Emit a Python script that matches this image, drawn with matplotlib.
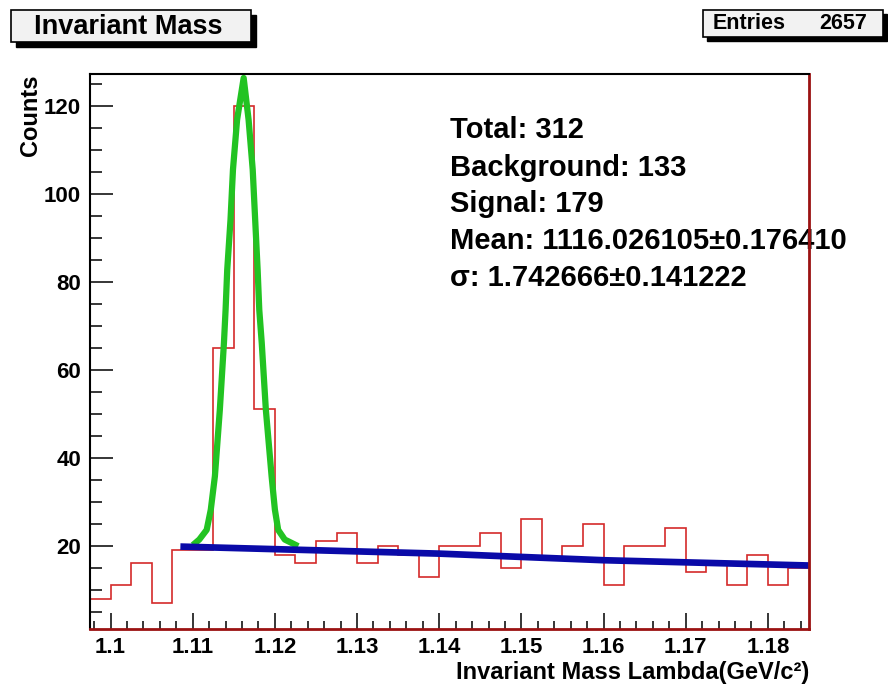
#import libraries needed for the plot
import numpy as np
import matplotlib
matplotlib.use('Agg')
import matplotlib.pyplot as plt
from matplotlib.patches import Rectangle

plt.rcParams['font.family'] = ['Liberation Sans', 'DejaVu Sans'] #helvetica-like font
plt.rcParams['font.weight'] = 'bold'

###data###
hist_start = 1.0975 #left edge of first bin (GeV/c2)
bin_width = 0.0025
counts = [8, 11, 16, 7, 19, 19, 65, 120, 51, 18, 16, 21, 23, 16, 20, 18, 13, 20,
          20, 23, 15, 26, 17, 20, 25, 11, 20, 20, 24, 14, 16, 11, 18, 11, 15]
edges = np.round(hist_start + bin_width * np.arange(len(counts) + 1), 4)

#green curve (signal fit) points
sig_x = [1.1103, 1.1108, 1.1117, 1.1122, 1.1127, 1.1133, 1.1138, 1.1140, 1.1142, 1.1146,
         1.1149, 1.1154, 1.1162, 1.1168, 1.1173, 1.1176, 1.1179, 1.1181, 1.1184, 1.1189,
         1.1196, 1.1200, 1.1204, 1.1212, 1.1225]
sig_y = [20.6, 21.4, 23.6, 28.2, 35.8, 50.9, 66.1, 73.6, 82.7, 94.1,
         105.5, 116.8, 126.3, 116.8, 105.5, 94.1, 82.7, 73.6, 66.1, 50.9,
         35.8, 28.2, 23.6, 21.4, 20.2]

#blue line (background fit)
bg_x = [1.1085, 1.14, 1.16, 1.185]
bg_y = [19.8, 18.2, 16.7, 15.5]

xticks = [1.10, 1.11, 1.12, 1.13, 1.14, 1.15, 1.16, 1.17, 1.18]
xtick_labels = ['1.1', '1.11', '1.12', '1.13', '1.14', '1.15', '1.16', '1.17', '1.18']
yticks = [20, 40, 60, 80, 100, 120]

stats_lines = ['Total: 312', 'Background: 133', 'Signal: 179',
               'Mean: 1116.026105\u00b10.176410', '\u03c3: 1.742666\u00b10.141222']
entries = '2657'

###figure###
W, H = 888, 684
fig = plt.figure(figsize=(W / 100, H / 100), dpi=100)

def fx(px): #pixel x -> figure fraction
    return px / W

def fy(py): #pixel y (from top) -> figure fraction
    return 1 - py / H

ax = fig.add_axes([fx(90), fy(629), fx(809) - fx(90), fy(74) - fy(629)])

ax.stairs(counts, edges, color='#d42a2a', lw=1.2, baseline=None, zorder=2) #histogram outline
ax.plot(sig_x, sig_y, color='#22c322', lw=4.5, zorder=3, solid_joinstyle='round')
ax.plot(bg_x, bg_y, color='#0a0aa8', lw=4.8, zorder=4, solid_capstyle='butt')

ax.set_xlim(1.0975, 1.185)
ax.set_ylim(1.07, 127.2)
ax.set_xticks(xticks)
ax.set_xticklabels(xtick_labels)
ax.set_xticks(np.arange(1.098, 1.1841, 0.002), minor=True)
ax.set_yticks(yticks)
ax.set_yticks(np.arange(5, 126, 5), minor=True)

ax.tick_params(axis='x', which='major', direction='in', length=11.5, width=1.1,
               pad=6, labelsize=16, top=False, color='black')
ax.tick_params(axis='x', which='minor', direction='in', length=6, width=1.1, top=False)
ax.tick_params(axis='y', which='major', direction='in', length=16.5, width=1.1,
               pad=6.5, labelsize=16, right=False, color='black')
ax.tick_params(axis='y', which='minor', direction='in', length=8.5, width=1.1, right=False)

for side in ['left', 'top']:
    ax.spines[side].set_color('black')
    ax.spines[side].set_linewidth(1.5)
for side in ['bottom', 'right']:
    ax.spines[side].set_color('#9b1212')
    ax.spines[side].set_linewidth(2)
for sp in ax.spines.values():
    sp.set_zorder(6) #frame drawn over the stats text

#stats text (runs past the right frame)
for i, line in enumerate(stats_lines):
    ax.text(fx(450), fy(138.5 + 37 * i), line, transform=fig.transFigure, fontsize=21,
            ha='left', va='baseline', zorder=3, clip_on=False)

#axis labels
fig.text(fx(31), fy(74), 'Counts', rotation=90, ha='center', va='top', fontsize=17)
fig.text(fx(809), fy(672), 'Invariant Mass Lambda(GeV/c\u00b2)', ha='right', va='center', fontsize=17)

#title box with shadow
def shadow_box(x0, y0, x1, y1, off):
    fig.add_artist(Rectangle((fx(x0 + off), fy(y1 + off)), fx(x1 - x0), (y1 - y0) / H,
                             transform=fig.transFigure, facecolor='black', edgecolor='black', lw=1))
    fig.add_artist(Rectangle((fx(x0), fy(y1)), fx(x1 - x0), (y1 - y0) / H,
                             transform=fig.transFigure, facecolor='#f2f2f2', edgecolor='black', lw=1.2))

shadow_box(11, 10, 250.7, 41.7, 5)
fig.text(fx(128), fy(26.5), 'Invariant Mass', ha='center', va='center', fontsize=19.5)

shadow_box(702.7, 10, 882.7, 36.7, 4)
fig.text(fx(712.7), fy(23.5), 'Entries', ha='left', va='center', fontsize=15.5)
fig.text(fx(866.7), fy(23.5), entries, ha='right', va='center', fontsize=15.5)

fig.savefig('out.png', dpi=100)
